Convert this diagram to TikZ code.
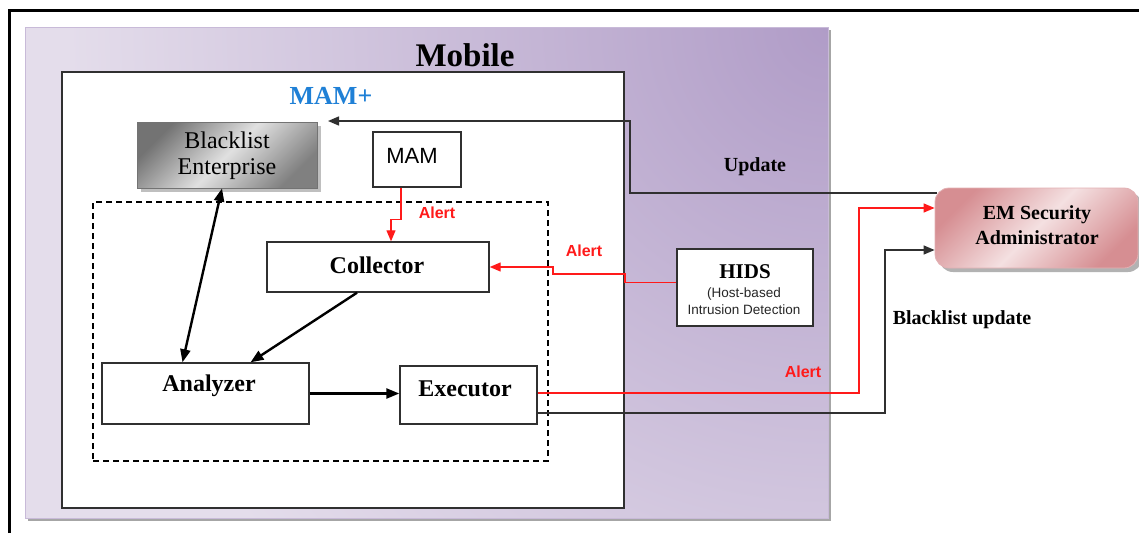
\documentclass[tikz,border=0pt]{standalone}
\usepackage{fontspec}
\setmainfont{Liberation Serif}
\newfontfamily\sansf{Liberation Sans}
\usetikzlibrary{arrows.meta,calc}
\definecolor{lavL}{HTML}{E4DDEB}
\definecolor{lavD}{HTML}{B09CC7}
\definecolor{pinkL}{HTML}{F4E0E1}
\definecolor{pinkD}{HTML}{D68E92}
\definecolor{mamblue}{HTML}{1F80D6}
\definecolor{alertred}{HTML}{FF1A1A}
\definecolor{boxline}{HTML}{303030}
\begin{document}
\begin{tikzpicture}[x=1pt,y=-1pt,
  box/.style={draw=boxline, line width=1.4pt, fill=white, inner sep=0pt},
  serifb/.style={font=\fontsize{#1}{#1}\selectfont\bfseries, inner sep=0pt},
  serifr/.style={font=\fontsize{#1}{#1}\selectfont, inner sep=0pt},
  alertlbl/.style={font=\sansf\fontsize{16}{16}\selectfont\bfseries, text=alertred, inner sep=0pt},
  conn/.style={draw=boxline, line width=1.4pt},
  redconn/.style={draw=alertred, line width=1.3pt},
  tipS/.style={-{Triangle[length=11pt,width=9pt]}},
  tipT/.style={-{Triangle[length=13pt,width=10pt]}},
  thickarr/.style={draw=black, line width=2.4pt}
]
\useasboundingbox (0,0) rectangle (1139,533);
% outer frame
\draw[line width=3pt, line join=miter] (9.5,533) -- (9.5,10) -- (1139,10);
% Mobile box
\fill[black!35] (28,30) rectangle (831,521);
\begin{scope}
  \clip (25,27) rectangle (828,518);
  \fill[lavL] (25,27) rectangle (828,518);
  \shade[inner color=lavD, outer color=lavL] (828,27) circle (760);
\end{scope}
\draw[lavD!70, line width=0.6pt] (25,27) rectangle (828,518);
\node[serifb=33] (mobileT) at (465,55) {Mobile};
% MAM+ box
\node[box, minimum width=562pt, minimum height=436pt] (mamplus) at (343,290) {};
\node[serifb=26, text=mamblue] (mamplusT) at (331,96) {MAM+};
% dashed box
\node[draw=black, line width=1.3pt, dash pattern=on 6pt off 4pt, minimum width=455pt, minimum height=259pt, inner sep=0pt] (core) at (320.5,331.5) {};
% Blacklist Enterprise
\fill[black!25] (141,126) rectangle (321,192);
\node[draw=black!55, line width=0.8pt, minimum width=180pt, minimum height=66pt, inner sep=0pt,
  top color=black!55, bottom color=black!50, middle color=black!12, shading angle=45] (blacklist) at (227,155) {};
\node[serifr=24, align=center, font=\fontsize{24}{26}\selectfont] (blacklistT) at (227,156) {Blacklist\\Enterprise};
% MAM
\node[box, minimum width=88pt, minimum height=55pt] (mam) at (417,159.5) {};
\node[font=\sansf\fontsize{22}{22}\selectfont, inner sep=0pt] (mamT) at (412,156) {MAM};
% Collector
\node[box, minimum width=222pt, minimum height=50pt] (collector) at (378,267) {};
\node[serifb=24] (collectorT) at (377,265) {Collector};
% Analyzer
\node[box, minimum width=207pt, minimum height=61pt] (analyzer) at (205.5,393.5) {};
\node[serifb=24] (analyzerT) at (209,386) {Analyzer};
% Executor
\node[box, minimum width=137pt, minimum height=58pt] (executor) at (468.5,395) {};
\node[serifb=24] (executorT) at (465,389) {Executor};
% HIDS
\node[box, minimum width=136pt, minimum height=77pt] (hids) at (745,287.5) {};
\node[serifb=21] (hidsT) at (745,272) {HIDS};
\node[font=\sansf\fontsize{13.5}{17}\selectfont, align=center, inner sep=0pt, text=black!85] (hidsSub) at (744,301) {(Host-based\\Intrusion Detection};
% EM Security Administrator
\fill[black!30, rounded corners=14pt] (939,192) rectangle (1142,272);
\node[draw=pinkD!70, line width=0.8pt, rounded corners=14pt, minimum width=203pt, minimum height=80pt, inner sep=0pt,
  top color=pinkD, bottom color=pinkD, middle color=pinkL, shading angle=45] (em) at (1036.5,228) {};
\node[serifb=20, align=center, font=\fontsize{20}{25}\selectfont\bfseries] (emT) at (1037,225) {EM Security\\Administrator};
% labels
\node[serifb=20] (updT) at (755,167) {Update};
\node[serifb=20] (blupT) at (962,320) {Blacklist update};
\node[alertlbl] (al1) at (437,213) {Alert};
\node[alertlbl] (al2) at (584,251) {Alert};
\node[alertlbl] (al3) at (803,372) {Alert};
% coordinates
\coordinate (updStart) at (937,193);
\coordinate (updEnd) at (328,121);
\coordinate (redY) at (859,208);
\coordinate (blkY) at (885,250);
% connectors
\draw[conn, tipS] (updStart) -- (630,193) -- (630,121) -- (updEnd);
\draw[redconn, tipS] ([xshift=-16pt]mam.south) -- ++(0,32) -| ([xshift=13pt]collector.north);
\draw[redconn, tipS] ([yshift=5pt]hids.west) -- (625,282.5) -- (625,274) -- (553,274) -- (553,267) -- (collector.east);
\draw[redconn, tipS] ([yshift=2pt]executor.east) -| (redY) -- (em.west |- redY);
\draw[conn, tipS] ([yshift=-18pt]executor.east) -| (blkY) -- (em.west |- blkY);
\draw[thickarr, {Triangle[length=13pt,width=10pt]}-{Triangle[length=13pt,width=10pt]}] ([xshift=-5pt]blacklist.south) -- ([xshift=-23pt]analyzer.north);
\draw[thickarr, tipT] ([xshift=-21pt]collector.south) -- ([xshift=45pt]analyzer.north);
\draw[thickarr, tipT] (analyzer.east) -- (executor.west |- analyzer.east);
\end{tikzpicture}
\end{document}
